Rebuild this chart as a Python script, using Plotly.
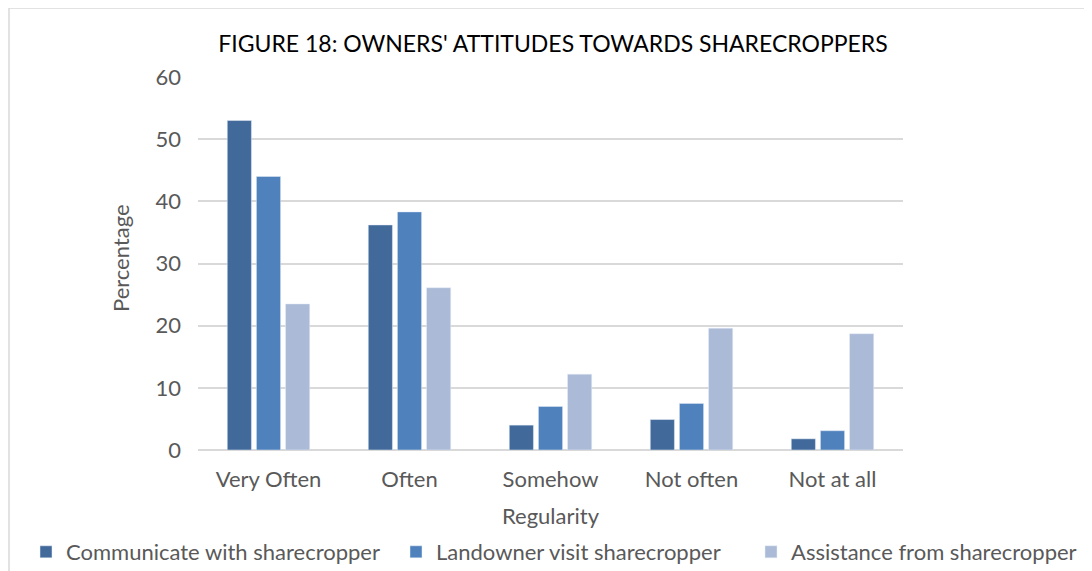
import plotly.graph_objects as go

# categories on the x axis
regularity = ["Very Often", "Often", "Somehow", "Not often", "Not at all"]

# series values (percent)
communicate = [53.0, 36.2, 4.0, 4.9, 1.8]
landowner_visit = [44.0, 38.3, 7.0, 7.5, 3.1]
assistance = [23.5, 26.1, 12.2, 19.6, 18.7]

y_ticks = [0, 10, 20, 30, 40, 50, 60]

fnt = "Lato, 'Open Sans', sans-serif"
W, H = 1092, 571
OFF = 8  # page body margin, figure sits 8px in from the top-left
PW = 705  # plot area width in px
PH = 373  # plot area height in px

fig = go.Figure()
fig.add_trace(go.Bar(x=regularity, y=communicate, name="Communicate with sharecropper",
                     marker_color="#41699A", legend="legend"))
fig.add_trace(go.Bar(x=regularity, y=landowner_visit, name="Landowner visit sharecropper",
                     marker_color="#4F81BD", legend="legend2"))
fig.add_trace(go.Bar(x=regularity, y=assistance, name="Assistance from sharecropper",
                     marker_color="#ABBAD7", legend="legend3"))

# one legend per series, laid out in a row under the axis title
def leg(px_left):
    return dict(xref="container", yref="container", x=(px_left - OFF) / W, xanchor="left",
                y=1 - (552 - OFF) / H, yanchor="middle", font=dict(size=22, color="#595959"),
                bgcolor="rgba(0,0,0,0)", borderwidth=0)

fig.update_layout(
    width=W,
    height=H,
    margin=dict(l=198 - OFF, r=W - (903 - OFF), t=77 - OFF, b=H - (450 - OFF), autoexpand=False),
    paper_bgcolor="white",
    plot_bgcolor="white",
    barmode="group",
    bargap=0.38,
    bargroupgap=0.17,
    showlegend=True,
    font=dict(family=fnt, color="#595959", size=22),
    title=dict(text="FIGURE 18: OWNERS' ATTITUDES TOWARDS SHARECROPPERS",
               x=(553 - OFF) / W, xanchor="center", y=1 - (44 - OFF) / H, yanchor="middle",
               font=dict(family=fnt, size=23, color="#000000")),
    legend=leg(26),
    legend2=leg(396),
    legend3=leg(751),
    xaxis=dict(title=dict(text="Regularity", standoff=17, font=dict(size=22)),
               showgrid=False, showline=False, ticks="", tickfont=dict(size=22),
               ticklabelstandoff=14),
    yaxis=dict(range=[0, 60], tickvals=y_ticks, showgrid=True, gridcolor="#D9D9D9",
               gridwidth=1.5, zeroline=True, zerolinecolor="#D9D9D9", zerolinewidth=1.5,
               ticks="", ticklabelstandoff=16, tickfont=dict(size=22)),
)

# y axis title
fig.add_annotation(text="Percentage", textangle=-90, xref="paper", yref="paper",
                   x=(120 - 198) / PW, y=(450 - 258) / PH, xanchor="center", yanchor="middle",
                   showarrow=False, font=dict(size=22, color="#595959"))

# outer chart border (visible on top and left in the original crop)
fig.add_shape(type="rect", xref="paper", yref="paper",
              x0=(1 - (198 - OFF)) / PW, x1=2, y0=-1, y1=(450 - 8) / PH,
              line=dict(color="#D9D9D9", width=1.5), fillcolor="rgba(0,0,0,0)", layer="below")

fig.write_html("out.html")
